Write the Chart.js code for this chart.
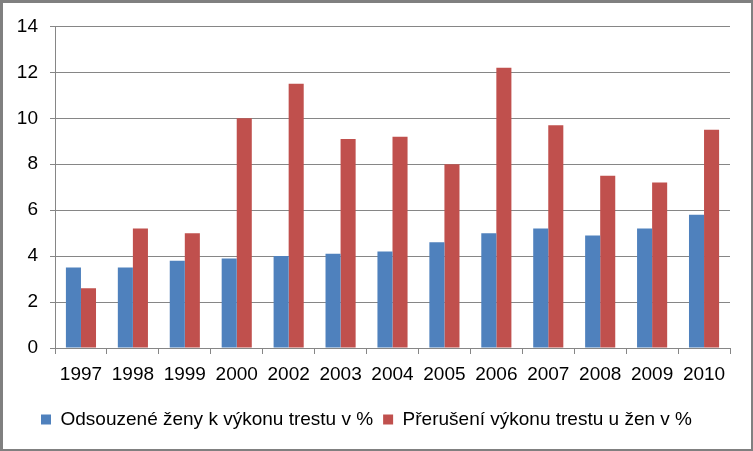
<!DOCTYPE html>
<html>
<head>
<meta charset="utf-8">
<script src="https://cdn.jsdelivr.net/npm/chart.js@4"></script>
<style>
  html, body { margin: 0; padding: 0; background: #fff; }
  #box { width: 753px; height: 451px; box-sizing: border-box; border: 3px solid #808080; border-right-width: 2px; border-bottom-width: 2px; }
  #chart-area { display: block; }
</style>
</head>
<body>
<div id="box"><canvas id="chart-area" width="748" height="446"></canvas></div>
<script>
// data
var roky = ['1997', '1998', '1999', '2000', '2002', '2003', '2004', '2005', '2006', '2007', '2008', '2009', '2010'];
var odsouzene = [3.5, 3.5, 3.8, 3.9, 4.0, 4.1, 4.2, 4.6, 5.0, 5.2, 4.9, 5.2, 5.8];
var preruseni = [2.6, 5.2, 5.0, 10.0, 11.5, 9.1, 9.2, 8.0, 12.2, 9.7, 7.5, 7.2, 9.5];
var nazvy = ['Odsouzené ženy k výkonu trestu v %', 'Přerušení výkonu trestu u žen v %'];

var pismo = '"Liberation Sans", Arial, sans-serif';
var seda = '#868686';

var ctx = document.getElementById('chart-area').getContext('2d');
var config = {
    type: 'bar',
    data: {
        labels: roky,
        datasets: [{
            label: nazvy[0],
            data: odsouzene,
            backgroundColor: '#4F81BD'
        }, {
            label: nazvy[1],
            data: preruseni,
            backgroundColor: '#C0504D'
        }]
    },
    options: {
        responsive: false,
        animation: false,
        layout: { padding: { left: 0, top: 21, right: 21, bottom: 10 } },
        datasets: { bar: { categoryPercentage: 0.58, barPercentage: 1 } },
        plugins: {
            tooltip: { enabled: false },
            legend: {
                position: 'bottom',
                labels: {
                    boxWidth: 10,
                    boxHeight: 10,
                    padding: 10,
                    color: '#000',
                    font: { family: pismo, size: 19 }
                }
            }
        },
        scales: {
            x: {
                grid: { offset: true, drawOnChartArea: false, color: seda, tickLength: 6 },
                border: { color: seda },
                ticks: { color: '#000', padding: 9, maxRotation: 0, autoSkip: false, font: { family: pismo, size: 19 } },
                afterFit: function(s) { s.height = 52; }
            },
            y: {
                min: 0,
                max: 14,
                grid: { color: seda, tickLength: 5 },
                border: { color: seda },
                ticks: { stepSize: 2, color: '#000', padding: 12, font: { family: pismo, size: 19 } },
                afterFit: function(s) { s.width = 52; }
            }
        }
    }
};
window.myBar = new Chart(ctx, config);
</script>
</body>
</html>
